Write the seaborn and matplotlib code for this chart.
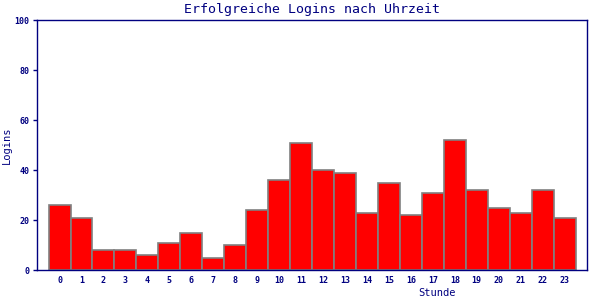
import matplotlib
matplotlib.use("Agg")
import matplotlib.pyplot as plt
import seaborn as sns
import pandas as pd

hours = list(range(24))
logins = [26, 21, 8, 8, 6, 11, 15, 5, 10, 24, 36, 51, 40, 39, 23, 35, 22, 31, 52, 32, 25, 23, 32, 21]
title = "Erfolgreiche Logins nach Uhrzeit"
xlabel = "Stunde"
ylabel = "Logins"
yticks = [0, 20, 40, 60, 80, 100]

navy = "#000080"
sns.set_style("white")
plt.rcParams["font.family"] = ["DejaVu Sans Mono"]

df = pd.DataFrame({"hour": hours, "logins": logins})

fig = plt.figure(figsize=(6, 3), dpi=100)
ax = fig.add_axes([36.5 / 600, 30 / 300, 550 / 600, 250 / 300])
sns.barplot(data=df, x="hour", y="logins", color="#ff0000", width=1.0,
            edgecolor="#808080", linewidth=1.2, saturation=1, ax=ax)
ax.set_xlim(-1.05, 24.0)
ax.set_ylim(0, 100)
ax.set_yticks(yticks)
ax.set_yticklabels([str(v) for v in yticks], fontsize=6, color=navy, fontweight="bold")
ax.set_xticks(range(24))
ax.set_xticklabels([str(h) for h in hours], fontsize=6, color=navy, fontweight="bold")
ax.tick_params(axis="y", length=3, width=1, color=navy, pad=2, left=True)
ax.tick_params(axis="x", length=0, pad=4)
for s in ax.spines.values():
    s.set_visible(True)
    s.set_color(navy)
    s.set_linewidth(1)
ax.set_title(title, fontsize=9.5, color=navy, pad=5)
ax.set_xlabel(xlabel, fontsize=7.5, color=navy)
ax.set_ylabel(ylabel, fontsize=7.5, color=navy)
ax.xaxis.set_label_coords(0.728, -0.072)
ax.yaxis.set_label_coords(-0.044, 0.5)
fig.savefig("out.png", dpi=100)
